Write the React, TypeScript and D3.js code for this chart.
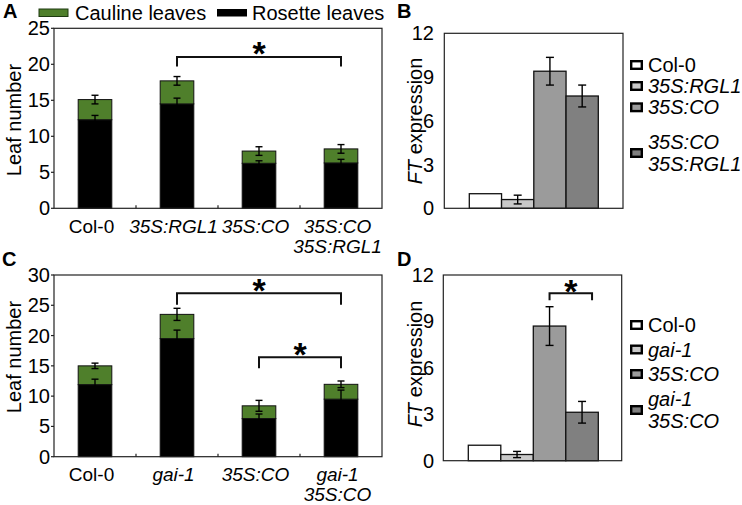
import React from "react";
import * as d3 from "d3";

const FONT = "'Liberation Sans', Arial, Helvetica, sans-serif";
const FS = 20;

// ---------- Panel A data ----------
const genotypesA = ["Col-0", "35S:RGL1", "35S:CO", "35S:CO|35S:RGL1"];
const rosetteA = [12.3, 14.5, 6.25, 6.3];
const rosetteErrA = [0.6, 0.8, 0.35, 0.5];
const caulineA = [2.8, 3.2, 1.7, 1.95];
const totalErrA = [0.6, 0.6, 0.6, 0.6];
const yTicksA = [0, 5, 10, 15, 20, 25];

// ---------- Panel C data ----------
const genotypesC = ["Col-0", "gai-1", "35S:CO", "gai-1|35S:CO"];
const rosetteC = [11.9, 19.5, 6.3, 9.5];
const rosetteErrC = [0.9, 1.4, 0.75, 1.5];
const caulineC = [3.1, 4.0, 2.1, 2.45];
const totalErrC = [0.45, 1.0, 0.9, 0.55];
const yTicksC = [0, 5, 10, 15, 20, 25, 30];

// ---------- Panel B / D data ----------
const genotypesB = ["Col-0", "35S:RGL1", "35S:CO", "35S:CO|35S:RGL1"];
const ftB = [1.0, 0.6, 9.4, 7.7];
const ftErrB = [0, 0.3, 0.95, 0.75];
const genotypesD = ["Col-0", "gai-1", "35S:CO", "gai-1|35S:CO"];
const ftD = [1.0, 0.4, 8.7, 3.13];
const ftErrD = [0, 0.2, 1.25, 0.7];
const yTicksFT = [0, 3, 6, 9, 12];
const ftFills = ["#ffffff", "#c9c9c9", "#9b9b9b", "#808080"];

const GREEN = "#4f7f2b";

type Bracket = { a: number; b: number; y: number; drop: number; bShift?: number };

const bracketsA: Bracket[] = [{ a: 1, b: 3, y: 21, drop: 1.3 }];
const bracketsC: Bracket[] = [
  { a: 1, b: 3, y: 27.0, drop: 1.9 },
  { a: 2, b: 3, y: 16.4, drop: 1.8 },
];
const bracketsD: Bracket[] = [{ a: 2, b: 3, y: 10.82, drop: 0.45, bShift: 10 }];

const isItalic = (g: string) => g !== "Col-0";

function ErrBar({ x, y0, y1, cap = 3.5 }: { x: number; y0: number; y1: number; cap?: number }) {
  return (
    <g stroke="#000" strokeWidth={1.4}>
      <line x1={x} x2={x} y1={y0} y2={y1} />
      <line x1={x - cap} x2={x + cap} y1={y0} y2={y0} />
      <line x1={x - cap} x2={x + cap} y1={y1} y2={y1} />
    </g>
  );
}

function Star({ x, cy }: { x: number; cy: number }) {
  const fs = 34;
  return (
    <text x={x} y={cy + 0.57 * fs} fontSize={fs} fontWeight="bold" textAnchor="middle" fontFamily={FONT}>
      *
    </text>
  );
}

function StackPanel(props: {
  cats: string[];
  rosette: number[];
  rosetteErr: number[];
  cauline: number[];
  totalErr: number[];
  yMax: number;
  yTicks: number[];
  box: { l: number; r: number; t: number; b: number };
  brackets: Bracket[];
  labelY: number;
  lineGap: number;
  titleY: number;
}) {
  const { cats, rosette, rosetteErr, cauline, totalErr, yMax, yTicks, box, brackets, labelY, lineGap, titleY } = props;
  const x = d3.scaleBand<string>().domain(cats).range([box.l, box.r]).padding(0);
  const y = d3.scaleLinear().domain([0, yMax]).range([box.b, box.t]);
  const bw = x.bandwidth() * 0.41;
  const rows = cats.map((c, i) => ({ cat: c, rosette: rosette[i], cauline: cauline[i] }));
  const series = d3.stack<any>().keys(["rosette", "cauline"])(rows);
  const fills = ["#000000", GREEN];
  const cx = (i: number) => (x(cats[i]) as number) + x.bandwidth() / 2;
  return (
    <g fontFamily={FONT}>
      {series.map((s, si) =>
        s.map((d, i) => (
          <rect
            key={si + "-" + i}
            x={cx(i) - bw / 2}
            width={bw}
            y={y(d[1])}
            height={y(d[0]) - y(d[1])}
            fill={fills[si]}
            stroke="#111"
            strokeWidth={1}
          />
        ))
      )}
      {cats.map((c, i) => (
        <g key={"e" + i}>
          <ErrBar x={cx(i)} y0={y(rosette[i] + rosetteErr[i])} y1={y(rosette[i] - rosetteErr[i])} />
          <ErrBar
            x={cx(i)}
            y0={y(rosette[i] + cauline[i] + totalErr[i])}
            y1={y(rosette[i] + cauline[i] - totalErr[i])}
          />
        </g>
      ))}
      <rect x={box.l} y={box.t} width={box.r - box.l} height={box.b - box.t} fill="none" stroke="#222" strokeWidth={1.2} />
      {yTicks.map((t) => (
        <g key={"yt" + t}>
          <line x1={box.l - 3} x2={box.l} y1={y(t)} y2={y(t)} stroke="#222" strokeWidth={1.2} />
          <text x={50} y={y(t)} dy="0.35em" textAnchor="end" fontSize={FS}>
            {t}
          </text>
        </g>
      ))}
      {cats.slice(1).map((c) => (
        <line key={"xt" + c} x1={x(c) as number} x2={x(c) as number} y1={box.b} y2={box.b - 3} stroke="#222" strokeWidth={1.2} />
      ))}
      {cats.map((c, i) =>
        c.split("|").map((line, li) => (
          <text
            key={"xl" + i + li}
            x={cx(i) - 3.5}
            y={labelY + li * lineGap}
            textAnchor="middle"
            fontSize={19}
            fontStyle={isItalic(c) ? "italic" : "normal"}
          >
            {line}
          </text>
        ))
      )}
      {brackets.map((br, k) => {
        const xa = cx(br.a);
        const xb = cx(br.b) + (br.bShift || 0);
        const yh = y(br.y);
        const yl = y(br.y - br.drop);
        return (
          <g key={"br" + k}>
            <path d={`M${xa},${yl}V${yh}H${xb}V${yl}`} fill="none" stroke="#111" strokeWidth={2} />
            <Star x={(xa + xb) / 2} cy={yh - 11} />
          </g>
        );
      })}
      <text transform={`translate(14,${titleY}) rotate(-90)`} dy="0.35em" textAnchor="middle" fontSize={FS}>
        Leaf number
      </text>
    </g>
  );
}

function FTPanel(props: {
  cats: string[];
  vals: number[];
  errs: number[];
  box: { l: number; r: number; t: number; b: number };
  barRange: [number, number];
  brackets: Bracket[];
  titleY: number;
  legendRows: number[];
}) {
  const { cats, vals, errs, box, barRange, brackets, titleY, legendRows } = props;
  const x = d3.scaleBand<string>().domain(cats).range(barRange).padding(0);
  const y = d3.scaleLinear().domain([0, 12]).range([box.b, box.t]);
  const cx = (i: number) => (x(cats[i]) as number) + x.bandwidth() / 2;
  return (
    <g fontFamily={FONT}>
      {cats.map((c, i) => (
        <rect
          key={"b" + i}
          x={x(c) as number}
          width={x.bandwidth()}
          y={y(vals[i])}
          height={y(0) - y(vals[i])}
          fill={ftFills[i]}
          stroke="#111"
          strokeWidth={1.3}
        />
      ))}
      {cats.map((c, i) =>
        errs[i] > 0 ? <ErrBar key={"e" + i} x={cx(i)} y0={y(vals[i] + errs[i])} y1={y(vals[i] - errs[i])} cap={4} /> : null
      )}
      <rect x={box.l} y={box.t} width={box.r - box.l} height={box.b - box.t} fill="none" stroke="#222" strokeWidth={1.2} />
      {yTicksFT.map((t) => (
        <text key={"yt" + t} x={434} y={y(t)} dy="0.35em" textAnchor="end" fontSize={FS}>
          {t}
        </text>
      ))}
      {brackets.map((br, k) => {
        const xa = cx(br.a);
        const xb = cx(br.b) + (br.bShift || 0);
        const yh = y(br.y);
        const yl = y(br.y - br.drop);
        return (
          <g key={"br" + k}>
            <path d={`M${xa},${yl}V${yh}H${xb}V${yl}`} fill="none" stroke="#111" strokeWidth={2} />
            <Star x={(xa + xb) / 2} cy={yh - 10} />
          </g>
        );
      })}
      <text transform={`translate(415,${titleY}) rotate(-90)`} dy="0.35em" textAnchor="middle" fontSize={FS}>
        <tspan fontStyle="italic">FT</tspan> expression
      </text>
      {cats.map((c, i) => {
        const lines = c.split("|");
        const ry = legendRows[i];
        return (
          <g key={"lg" + i}>
            <rect x={631.2} y={ry - 3.8} width={10.6} height={7.6} fill={ftFills[i]} stroke="#000" strokeWidth={2.4} />
            {lines.map((ln, li) => (
              <text
                key={li}
                x={648}
                y={ry + (li - (lines.length - 1) / 2) * 21.5}
                dy="0.35em"
                fontSize={FS}
                fontStyle={isItalic(c) ? "italic" : "normal"}
              >
                {ln}
              </text>
            ))}
          </g>
        );
      })}
    </g>
  );
}

export default function App() {
  return (
    <svg
      width={742}
      height={505}
      viewBox="0 0 742 505"
      style={{ position: "absolute", left: 0, top: 0, background: "#fff" }}
      fontFamily={FONT}
    >
      <rect x={0} y={0} width={742} height={505} fill="#fff" />
      <text x={3} y={18} fontSize={20} fontWeight="bold">A</text>
      <text x={397} y={18} fontSize={20} fontWeight="bold">B</text>
      <text x={2} y={266} fontSize={20} fontWeight="bold">C</text>
      <text x={397} y={266} fontSize={20} fontWeight="bold">D</text>

      <rect x={39} y={9} width={29} height={7.5} fill={GREEN} stroke="#1e3a10" strokeWidth={1} />
      <text x={75} y={20} fontSize={FS}>Cauline leaves</text>
      <rect x={217} y={9} width={30} height={7.5} fill="#000" />
      <text x={252} y={20} fontSize={FS}>Rosette leaves</text>

      <StackPanel
        cats={genotypesA}
        rosette={rosetteA}
        rosetteErr={rosetteErrA}
        cauline={caulineA}
        totalErr={totalErrA}
        yMax={25}
        yTicks={yTicksA}
        box={{ l: 54, r: 382, t: 28.3, b: 208.3 }}
        brackets={bracketsA}
        labelY={233}
        lineGap={20}
        titleY={120}
      />
      <StackPanel
        cats={genotypesC}
        rosette={rosetteC}
        rosetteErr={rosetteErrC}
        cauline={caulineC}
        totalErr={totalErrC}
        yMax={30}
        yTicks={yTicksC}
        box={{ l: 54, r: 382, t: 275, b: 456.7 }}
        brackets={bracketsC}
        labelY={481}
        lineGap={19.5}
        titleY={357}
      />
      <FTPanel
        cats={genotypesB}
        vals={ftB}
        errs={ftErrB}
        box={{ l: 444.3, r: 623, t: 33.3, b: 208.3 }}
        barRange={[469.3, 598.3]}
        brackets={[]}
        titleY={121}
        legendRows={[65, 86, 107.3, 153]}
      />
      <FTPanel
        cats={genotypesD}
        vals={ftD}
        errs={ftErrD}
        box={{ l: 443.3, r: 621.7, t: 275, b: 460.7 }}
        barRange={[468.3, 598.3]}
        brackets={bracketsD}
        titleY={364}
        legendRows={[325, 349.5, 374, 410]}
      />
    </svg>
  );
}
